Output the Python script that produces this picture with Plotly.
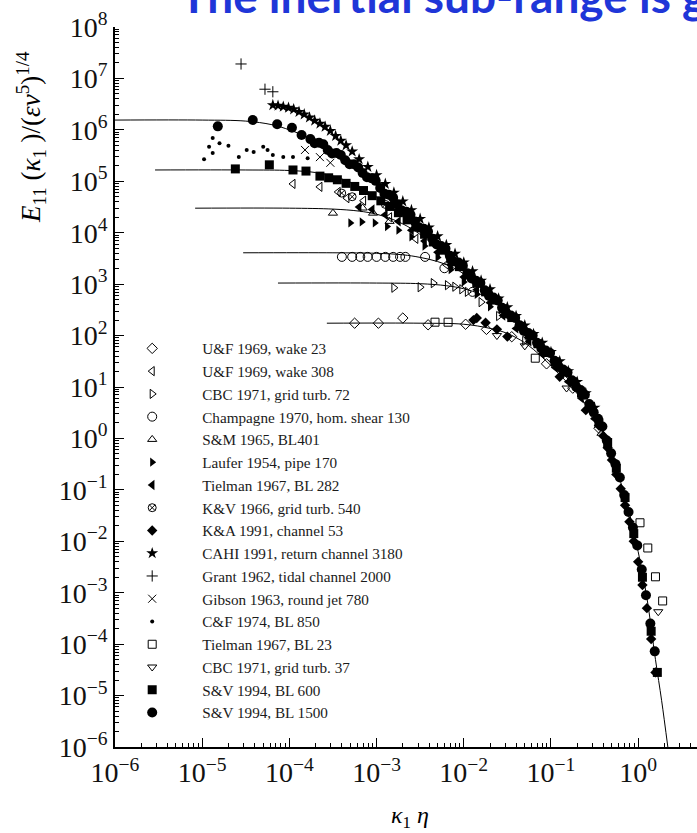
import plotly.graph_objects as go

# ---------------- model spectra (lines) ----------------
m1500_x = [1e-6, 1e-5, 3.16e-5, 6.31e-5, 1e-4, 1.41e-4, 2.0e-4, 3.16e-4, 5.01e-4, 7.94e-4, 1e-3, 1.58e-3,
           3.16e-3, 1e-2, 3.16e-2, 0.1, 0.2, 0.316, 0.398, 0.5, 0.631, 0.794, 1.0, 1.26, 1.58, 1.86, 2.19]
m1500_y = [1.55e6, 1.55e6, 1.48e6, 1.26e6, 1.0e6, 7.94e5, 5.89e5, 3.72e5, 2.29e5, 1.26e5, 8.91e4, 4.27e4,
           1.35e4, 2.0e3, 282, 39.8, 10.5, 3.31, 1.41, 0.501, 0.141, 0.0355, 6.31e-3, 7.94e-4, 5.01e-5, 7.94e-6, 1e-6]
m600_x = [2.88e-6, 3.16e-5, 1e-4, 2.0e-4, 3.16e-4, 5.0e-4, 7.94e-4, 1.26e-3, 2.0e-3, 3.16e-3, 5.0e-3, 1e-2, 3.16e-2, 0.1]
m600_y = [1.66e5, 1.66e5, 1.62e5, 1.48e5, 1.26e5, 9.55e4, 6.31e4, 3.8e4, 2.19e4, 1.15e4, 5.75e3, 1.86e3, 275, 38.9]
m300_x = [8.3e-6, 1e-4, 3.16e-4, 6.31e-4, 1e-3, 1.58e-3, 2.51e-3, 3.98e-3, 6.31e-3, 1e-2, 3.16e-2, 0.1]
m300_y = [3.0e4, 3.0e4, 2.88e4, 2.63e4, 2.29e4, 1.78e4, 1.2e4, 6.92e3, 3.63e3, 1.78e3, 269, 38.9]
m130_x = [2.95e-5, 3.16e-4, 1e-3, 2.0e-3, 3.16e-3, 5.0e-3, 7.94e-3, 1.26e-2, 2.0e-2, 3.16e-2, 0.1]
m130_y = [4.07e3, 4.07e3, 3.98e3, 3.72e3, 3.31e3, 2.75e3, 2.0e3, 1.2e3, 603, 263, 38.0]
m70_x = [7.4e-5, 1e-3, 3.16e-3, 6.31e-3, 1e-2, 1.58e-2, 2.51e-2, 3.98e-2, 6.31e-2, 0.1, 0.158]
m70_y = [1.05e3, 1.05e3, 1.02e3, 933, 813, 631, 417, 229, 95.5, 36.3, 14.1]
m30_x = [2.69e-4, 3.16e-3, 1e-2, 2.0e-2, 3.16e-2, 5.0e-2, 7.94e-2, 0.126, 0.2, 0.316, 0.398]
m30_y = [174, 174, 166, 138, 110, 72.4, 38.0, 17.4, 7.41, 2.63, 1.26]

# ---------------- measured spectra (symbols) ----------------
uf23_x = [5.6e-4, 1.05e-3, 2.0e-3, 3.9e-3, 1.05e-2, 1.82e-2, 3.55e-2, 8.9e-2, 0.178, 0.355]
uf23_y = [174, 174, 219, 162, 166, 132, 95, 28.2, 9.5, 1.58]
uf308_x = [1.1e-4, 2.24e-4, 3.63e-4, 4.57e-4, 7.1e-4, 1.41e-3, 2.82e-3, 6.3e-3]
uf308_y = [8.9e4, 7.8e4, 6.2e4, 4.7e4, 4.2e4, 2.0e4, 7.6e3, 2.4e3]
cbc72_x = [1.58e-3, 3.16e-3, 4.47e-3, 6.5e-3, 7.9e-3, 9.5e-3, 1.1e-2, 1.58e-2, 2.51e-2, 5.0e-2]
cbc72_y = [851, 871, 1047, 955, 891, 794, 708, 447, 240, 79]
champ_x = [4.0e-4, 5.25e-4, 6.5e-4, 7.9e-4, 1.0e-3, 1.26e-3, 1.55e-3, 1.86e-3, 2.14e-3, 3.6e-3, 6.0e-3, 1.26e-2]
champ_y = [3390, 3390, 3390, 3390, 3390, 3390, 3390, 3390, 3390, 3390, 2040, 708]
sm_x = [3.16e-4, 6.92e-4, 9.12e-4, 1.41e-3, 0.380]
sm_y = [2.40e4, 3.02e4, 2.40e4, 1.66e4, 1.26]
laufer_x = [5.01e-4, 6.76e-4, 9.55e-4, 1.32e-3, 1.78e-3, 2.51e-3, 3.55e-3, 5.01e-3, 7.08e-3, 1e-2, 1.41e-2, 2.0e-2]
laufer_y = [1.55e4, 1.62e4, 1.55e4, 1.32e4, 1.12e4, 8.32e3, 5.50e3, 3.31e3, 1.91e3, 1.10e3, 631, 363]
tiel282_x = [6.31e-4, 8.91e-4, 1.26e-3, 1.78e-3, 2.51e-3, 3.55e-3, 5.01e-3, 7.08e-3, 1e-2, 1.41e-2, 2.0e-2,
             2.82e-2, 3.98e-2, 5.62e-2, 7.94e-2, 0.112, 0.158, 0.224, 0.316]
tiel282_y = [3.16e4, 2.82e4, 2.24e4, 1.66e4, 1.12e4, 6.92e3, 4.17e3, 2.40e3, 1.38e3, 776, 437,
             245, 138, 77.6, 43.7, 24.0, 12.6, 6.03, 2.40]
kv_x = [3.98e-4, 5.25e-4, 1.26e-3]
kv_y = [5.89e4, 5.01e4, 3.55e4]
ka_x = [1.29e-2, 1.41e-2, 1.78e-2, 2.40e-2, 3.16e-2, 0.126, 0.251, 0.355, 0.398, 0.447, 0.501, 0.562, 0.631,
        0.708, 0.794, 0.891, 1.0, 1.12, 1.26, 1.41, 1.58]
ka_y = [200, 219, 178, 132, 95.5, 15.8, 3.55, 1.78, 1.12, 0.661, 0.380, 0.200, 0.105,
        0.0501, 0.0240, 0.0100, 3.98e-3, 1.41e-3, 5.01e-4, 1.26e-4, 2.82e-5]
cahi_x = [6.46e-5, 7.41e-5, 8.51e-5, 9.77e-5, 1.12e-4, 1.29e-4, 1.48e-4, 1.70e-4, 1.95e-4, 2.24e-4, 2.57e-4,
          2.95e-4, 3.39e-4, 3.89e-4, 4.47e-4, 5.25e-4, 6.31e-4, 7.94e-4, 1.0e-3, 1.26e-3, 1.58e-3, 2.0e-3,
          2.51e-3, 3.16e-3, 3.98e-3, 5.01e-3, 6.31e-3, 7.94e-3, 1e-2, 1.26e-2, 1.58e-2, 2.0e-2, 2.51e-2,
          3.16e-2, 3.98e-2, 5.01e-2, 6.31e-2, 7.94e-2, 0.1, 0.126, 0.158, 0.2, 0.251, 0.316]
cahi_y = [3.02e6, 2.95e6, 2.82e6, 2.69e6, 2.51e6, 2.24e6, 2.0e6, 1.74e6, 1.51e6, 1.32e6, 1.15e6,
          9.55e5, 7.59e5, 6.17e5, 5.01e5, 3.80e5, 2.69e5, 1.91e5, 1.32e5, 8.91e4, 6.03e4, 4.07e4,
          2.75e4, 1.86e4, 1.26e4, 8.51e3, 5.75e3, 3.89e3, 2.63e3, 1.78e3, 1.17e3, 794, 525,
          355, 240, 158, 107, 72.4, 47.9, 31.6, 20.4, 12.6, 7.59, 3.98]
grant_x = [2.79e-5, 5.25e-5, 6.46e-5]
grant_y = [1.91e7, 6.17e6, 5.50e6]
gibson_x = [1.51e-4, 2.24e-4, 2.95e-4]
gibson_y = [4.07e5, 2.95e5, 2.29e5]
cf_x = [1.32e-5, 1.20e-5, 1.32e-5, 1.05e-5, 1.58e-5, 2.0e-5, 2.63e-5, 3.24e-5, 3.89e-5, 5.01e-5, 5.62e-5,
        6.46e-5, 8.51e-5, 1.10e-4, 1.62e-4]
cf_y = [6.92e5, 4.68e5, 3.55e5, 2.69e5, 5.50e5, 4.90e5, 2.95e5, 4.07e5, 3.72e5, 4.68e5, 4.07e5,
        3.24e5, 2.95e5, 2.95e5, 2.82e5]
tiel23_x = [4.68e-3, 6.61e-3, 6.61e-2, 1.05, 1.29, 1.58, 1.91]
tiel23_y = [182, 182, 36.3, 0.0229, 7.41e-3, 2.04e-3, 6.92e-4]
cbc37_x = [2.40e-2, 5.01e-2, 0.151, 0.316, 1.70]
cbc37_y = [100, 63.1, 9.55, 2.63, 4.27e-4]
sv600_x = [2.40e-5, 5.89e-5, 1.10e-4, 1.55e-4, 2.24e-4, 2.82e-4, 3.55e-4, 4.47e-4, 5.62e-4, 7.08e-4, 8.91e-4,
           1.12e-3, 1.41e-3, 1.78e-3, 2.24e-3, 2.82e-3, 3.55e-3, 4.47e-3, 5.62e-3, 7.08e-3, 8.91e-3,
           1.12e-2, 1.41e-2, 1.78e-2, 2.24e-2, 2.82e-2, 3.55e-2, 4.47e-2, 5.62e-2, 7.08e-2, 8.91e-2,
           0.112, 0.141, 0.178, 0.224, 0.282, 0.355, 0.447, 0.562, 0.708, 0.891, 1.12, 1.41, 1.66]
sv600_y = [1.74e5, 2.09e5, 1.66e5, 1.58e5, 1.26e5, 1.17e5, 1.07e5, 9.12e4, 7.94e4, 6.61e4, 5.25e4,
           4.17e4, 3.24e4, 2.45e4, 1.78e4, 1.29e4, 9.33e3, 6.61e3, 4.57e3, 3.16e3, 2.19e3,
           1.51e3, 1.05e3, 708, 490, 331, 224, 151, 102, 69.2, 46.8,
           30.9, 20.0, 12.6, 7.59, 4.17, 2.00, 0.832, 0.263, 0.0708, 0.0141, 2.0e-3, 1.78e-4, 2.82e-5]
sv1500_x = [1.51e-5, 3.80e-5, 7.24e-5, 1.07e-4, 1.38e-4, 1.74e-4, 2.19e-4, 2.75e-4, 3.47e-4, 4.37e-4, 5.50e-4,
            6.92e-4, 8.71e-4, 1.10e-3, 1.38e-3, 1.74e-3, 2.19e-3, 2.75e-3, 3.47e-3, 4.37e-3, 5.50e-3,
            6.92e-3, 8.71e-3, 1.10e-2, 1.38e-2, 1.74e-2, 2.19e-2, 2.75e-2, 3.47e-2, 4.37e-2, 5.50e-2,
            6.92e-2, 8.71e-2, 0.110, 0.138, 0.174, 0.219, 0.275, 0.347, 0.437, 0.550, 0.692, 0.871, 1.10, 1.38,
            1.95e-4, 2.45e-4, 3.09e-4, 3.89e-4, 4.90e-4, 6.17e-4, 7.76e-4, 9.77e-4, 1.23e-3, 1.55e-3,
            1.95e-3, 2.45e-3, 3.09e-3, 3.89e-3, 4.90e-3, 6.17e-3, 7.76e-3, 9.77e-3, 1.23e-2, 1.55e-2,
            1.95e-2, 2.45e-2, 3.09e-2, 3.89e-2, 4.90e-2, 6.17e-2, 7.76e-2, 9.77e-2, 0.123, 0.155,
            0.195, 0.245, 0.309, 0.389, 0.490, 0.617, 0.776, 0.977, 1.23, 1.55]
sv1500_y = [1.17e6, 1.55e6, 1.29e6, 1.10e6, 7.94e5, 6.61e5, 5.62e5, 4.07e5, 3.55e5, 2.57e5, 2.14e5,
            1.45e5, 1.15e5, 7.41e4, 5.50e4, 3.55e4, 2.57e4, 1.66e4, 1.20e4, 7.59e3, 5.50e3,
            3.55e3, 2.63e3, 1.62e3, 1.17e3, 759, 550, 347, 245, 158, 112,
            72.4, 51.3, 32.4, 21.9, 13.5, 8.71, 4.68, 2.40, 0.912, 0.316, 0.0794, 0.0186, 2.82e-3, 2.51e-4,
            5.50e5, 5.25e5, 3.47e5, 3.24e5, 2.14e5, 1.86e5, 1.20e5, 1.02e5, 5.75e4, 4.79e4,
            2.69e4, 2.24e4, 1.26e4, 1.05e4, 5.89e3, 4.90e3, 2.75e3, 2.29e3, 1.29e3, 1.05e3,
            589, 479, 269, 219, 123, 100, 56.2, 45.7, 24.5, 19.1,
            10.0, 7.08, 3.24, 1.70, 0.513, 0.174, 0.0372, 8.32e-3, 8.91e-4, 7.24e-5]

# ---------------- axis ticks ----------------
y_tickvals = [1e-6, 1e-5, 1e-4, 1e-3, 1e-2, 1e-1, 1e0, 1e1, 1e2, 1e3, 1e4, 1e5, 1e6, 1e7, 1e8]
y_ticktext = ['10<sup>\u22126</sup>', '10<sup>\u22125</sup>', '10<sup>\u22124</sup>', '10<sup>\u22123</sup>',
              '10<sup>\u22122</sup>', '10<sup>\u22121</sup>', '10<sup>0</sup>', '10<sup>1</sup>', '10<sup>2</sup>',
              '10<sup>3</sup>', '10<sup>4</sup>', '10<sup>5</sup>', '10<sup>6</sup>', '10<sup>7</sup>', '10<sup>8</sup>']
x_tickvals = [1e-6, 1e-5, 1e-4, 1e-3, 1e-2, 1e-1, 1e0]
x_ticktext = ['10<sup>\u22126</sup>', '10<sup>\u22125</sup>', '10<sup>\u22124</sup>', '10<sup>\u22123</sup>',
              '10<sup>\u22122</sup>', '10<sup>\u22121</sup>', '10<sup>0</sup>']

models = [(m1500_x, m1500_y), (m600_x, m600_y), (m300_x, m300_y),
          (m130_x, m130_y), (m70_x, m70_y), (m30_x, m30_y)]

series = [
    ('U&F 1969, wake 23', uf23_x, uf23_y, 'diamond-open', 8),
    ('U&F 1969, wake 308', uf308_x, uf308_y, 'triangle-left-open', 8),
    ('CBC 1971, grid turb. 72', cbc72_x, cbc72_y, 'triangle-right-open', 8),
    ('Champagne 1970, hom. shear 130', champ_x, champ_y, 'circle-open', 9),
    ('S&M 1965, BL401', sm_x, sm_y, 'triangle-up-open', 8),
    ('Laufer 1954, pipe 170', laufer_x, laufer_y, 'triangle-right', 8),
    ('Tielman 1967, BL 282', tiel282_x, tiel282_y, 'triangle-left', 9),
    ('K&V 1966, grid turb. 540', kv_x, kv_y, 'circle-x-open', 8),
    ('K&A 1991, channel 53', ka_x, ka_y, 'diamond', 8),
    ('CAHI 1991, return channel 3180', cahi_x, cahi_y, 'star', 9),
    ('Grant 1962, tidal channel 2000', grant_x, grant_y, 'cross-thin-open', 8),
    ('Gibson 1963, round jet 780', gibson_x, gibson_y, 'x-thin-open', 8),
    ('C&F 1974, BL 850', cf_x, cf_y, 'circle', 4),
    ('Tielman 1967, BL 23', tiel23_x, tiel23_y, 'square-open', 8),
    ('CBC 1971, grid turb. 37', cbc37_x, cbc37_y, 'triangle-down-open', 8),
    ('S&V 1994, BL 600', sv600_x, sv600_y, 'square', 9),
    ('S&V 1994, BL 1500', sv1500_x, sv1500_y, 'circle', 10),
]

fig = go.Figure()
for mx, my in models:
    fig.add_trace(go.Scatter(x=mx, y=my, mode='lines', line=dict(color='black', width=1),
                             showlegend=False, hoverinfo='skip', line_shape='spline'))
for name, sx, sy, sym, sz in series:
    lw = 1 if sym.endswith('open') else 0
    fig.add_trace(go.Scatter(x=sx, y=sy, mode='markers', name=name,
                             marker=dict(symbol=sym, size=sz, color='black',
                                         line=dict(color='black', width=lw))))

serif = 'Liberation Serif, Times New Roman, serif'
axis_common = dict(type='log', exponentformat='power', tickmode='array', ticks='inside', ticklen=9,
                   tickwidth=1.2, tickcolor='black', showline=True, linecolor='black', linewidth=1.5,
                   mirror=False, showgrid=False, zeroline=False,
                   tickfont=dict(family=serif, size=28, color='#111'),
                   minor=dict(ticks='inside', ticklen=4, tickwidth=0.8, tickcolor='black', dtick='D1',
                              showgrid=False))
fig.update_xaxes(range=[-6, 0.675], tickvals=x_tickvals, ticktext=x_ticktext, **axis_common)
fig.update_yaxes(range=[-6, 8], tickvals=y_tickvals, ticktext=y_ticktext, **axis_common)

fig.update_layout(
    width=697, height=833,
    margin=dict(l=115, r=0, t=27, b=86),
    paper_bgcolor='white', plot_bgcolor='white',
    showlegend=True,
    legend=dict(x=-0.022, xanchor='left', y=0.5764, yanchor='top', itemwidth=90, tracegroupgap=0,
                font=dict(family=serif, size=15.2, color='#1a1a1a'), bgcolor='rgba(0,0,0,0)'),
    annotations=[
        dict(text='The inertial sub-range is g', xref='paper', yref='paper', x=(178 - 115) / 582, y=1,
             xanchor='left', yanchor='middle', yshift=32, showarrow=False,
             font=dict(family='Lato, Open Sans, sans-serif', size=46, color='#1f36d8', weight='bold')),
        dict(text='<i>E</i><sub>11</sub> (<i>\u03ba</i><sub>1</sub> )/(<i>\u03b5\u03bd</i><sup>5</sup>)<sup>1/4</sup>',
             xref='paper', yref='paper', x=(31 - 115) / 582, y=(747 - 137) / 720, textangle=-90,
             xanchor='center', yanchor='middle', showarrow=False,
             font=dict(family=serif, size=27, color='black')),
        dict(text='<i>\u03ba</i><sub>1</sub> <i>\u03b7</i>', xref='paper', yref='paper',
             x=(410 - 115) / 582, y=(747 - 817) / 720, xanchor='center', yanchor='middle',
             showarrow=False, font=dict(family=serif, size=24, color='black')),
    ],
)

fig.write_html('out.html')
